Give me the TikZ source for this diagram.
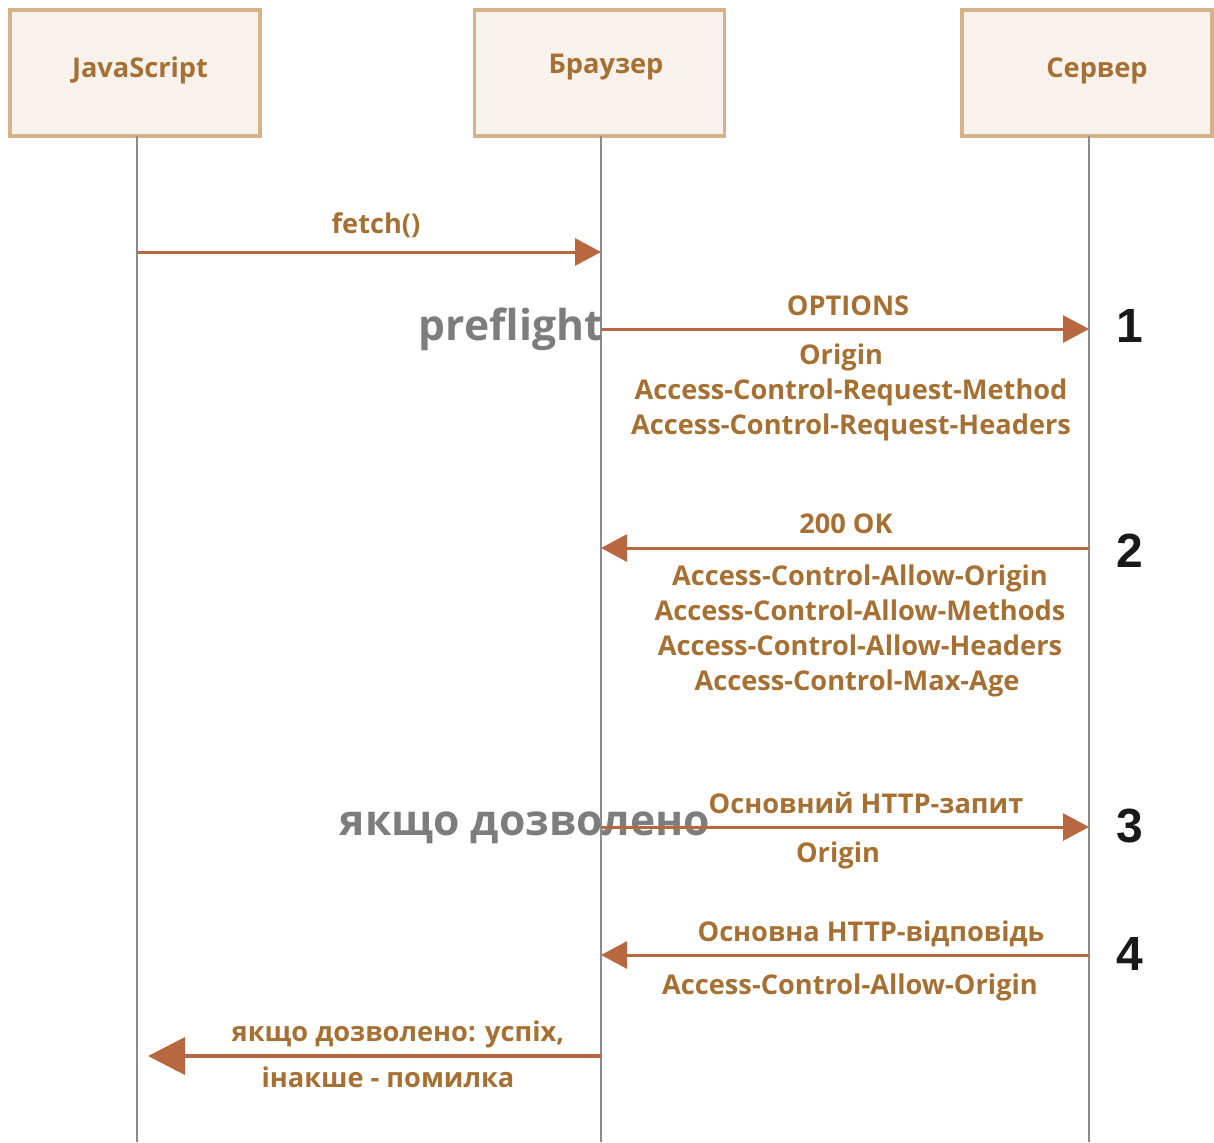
\documentclass[tikz,border=0pt]{standalone}
\usepackage{fontspec}
\setmainfont{Open Sans}
\newfontfamily\numfont{Liberation Sans}
\usetikzlibrary{arrows.meta}
\definecolor{boxline}{RGB}{215,177,136}
\definecolor{boxfill}{RGB}{249,241,236}
\definecolor{labeltext}{RGB}{166,112,50}
\definecolor{msgline}{RGB}{184,104,64}
\definecolor{lifegray}{RGB}{140,140,140}
\definecolor{notegray}{RGB}{125,125,125}
\begin{document}
\begin{tikzpicture}[x=0.5pt,y=-0.5pt,
  actor/.style={draw=boxline,fill=boxfill,line width=1.6pt,minimum width=125pt,minimum height=63pt,inner sep=0pt},
  actortext/.style={text=labeltext,font=\fontsize{13.6}{16}\selectfont\bfseries,anchor=base,inner sep=0pt},
  lifeline/.style={draw=lifegray,line width=1pt},
  msg/.style={draw=msgline,line width=1.5pt,-{Triangle[length=13pt,width=13.5pt]}},
  bigmsg/.style={draw=msgline,line width=2pt,-{Triangle[length=18.5pt,width=18.5pt]}},
  lbl/.style={text=labeltext,font=\fontsize{13.6}{16}\selectfont\bfseries,anchor=base,inner sep=0pt},
  note/.style={text=notegray,font=\fontsize{21.3}{25}\selectfont\bfseries,anchor=base,inner sep=0pt},
  stepnum/.style={text=black!90,font=\fontsize{24}{28}\selectfont\numfont\bfseries,anchor=base,inner sep=0pt}]
\useasboundingbox (0,0) rectangle (1214,1142);

% participants
\node[actor] (js) at (135,73) {};
\node[actor] (br) at (599.5,73) {};
\node[actor] (sv) at (1087,73) {};
\node[actortext] (jst) at (140,77) {JavaScript};
\node[actortext] (brt) at (606,73) {Браузер};
\node[actortext] (svt) at (1097,77) {Сервер};

% lifelines
\coordinate (jsT) at (137,136);  \coordinate (jsB) at (137,1142);
\coordinate (brT) at (601,136);  \coordinate (brB) at (601,1142);
\coordinate (svT) at (1089,136); \coordinate (svB) at (1089,1142);
\draw[lifeline] (jsT) -- (jsB);
\draw[lifeline] (brT) -- (brB);
\draw[lifeline] (svT) -- (svB);

% message anchor points
\coordinate (m0a) at (137,252);  \coordinate (m0b) at (601,252);
\coordinate (m1a) at (601,329);  \coordinate (m1b) at (1089,329);
\coordinate (m2a) at (1089,548); \coordinate (m2b) at (601,548);
\coordinate (m3a) at (601,827);  \coordinate (m3b) at (1089,827);
\coordinate (m4a) at (1089,955); \coordinate (m4b) at (601,955);
\coordinate (m5a) at (601,1056); \coordinate (m5b) at (148,1056);

% side notes (drawn under the arrows)
\node[note,anchor=base east] (pre) at (603,340) {preflight};
\node[note] (allowed) at (525,835) {якщо дозволено};

% messages
\draw[msg] (m0a) -- (m0b);
\draw[msg] (m1a) -- (m1b);
\draw[msg] (m2a) -- (m2b);
\draw[msg] (m3a) -- (m3b);
\draw[msg] (m4a) -- (m4b);
\draw[bigmsg] (m5a) -- (m5b);

% message labels
\node[lbl] (l0) at (376,233) {fetch()};
\node[lbl] (l1) at (848,315) {OPTIONS};
\node[lbl] (l1a) at (841,364) {Origin};
\node[lbl] (l1b) at (851,399) {Access-Control-Request-Method};
\node[lbl] (l1c) at (851,434) {Access-Control-Request-Headers};
\node[lbl] (l2) at (846,533) {200 OK};
\node[lbl] (l2a) at (860,585) {Access-Control-Allow-Origin};
\node[lbl] (l2b) at (860,620) {Access-Control-Allow-Methods};
\node[lbl] (l2c) at (860,655) {Access-Control-Allow-Headers};
\node[lbl] (l2d) at (857,690) {Access-Control-Max-Age};
\node[lbl] (l3) at (866,813) {Основний HTTP-запит};
\node[lbl] (l3a) at (838,862) {Origin};
\node[lbl] (l4) at (871,941) {Основна HTTP-відповідь};
\node[lbl] (l4a) at (850,994) {Access-Control-Allow-Origin};
\node[lbl] (l5) at (398,1041) {якщо дозволено: успіх,};
\node[lbl] (l5a) at (388,1087) {інакше - помилка};

% step numbers
\node[stepnum] (n1) at (1130,342) {1};
\node[stepnum] (n2) at (1130,567) {2};
\node[stepnum] (n3) at (1130,842) {3};
\node[stepnum] (n4) at (1130,970) {4};
\end{tikzpicture}
\end{document}
